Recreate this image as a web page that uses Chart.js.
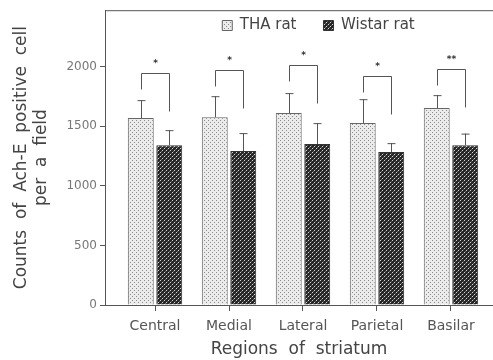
<!DOCTYPE html>
<html>
<head>
<meta charset="utf-8">
<script src="https://cdn.jsdelivr.net/npm/chart.js@4.4.0/dist/chart.umd.min.js"></script>
<style>
html, body { margin: 0; padding: 0; background: #fff; }
</style>
</head>
<body>
<canvas id="c" width="493" height="360"></canvas>
<script>
// values
const regions = ['Central', 'Medial', 'Lateral', 'Parietal', 'Basilar'];
const thaMean = [1570, 1577, 1611, 1527, 1653];
const thaSd = [150, 176, 168, 201, 109];
const wistarMean = [1342, 1292, 1351, 1284, 1342];
const wistarSd = [126, 151, 176, 75, 97];
const bracketTop = [1946, 1971, 2013, 1921, 1980];
const signif = ['*', '*', '*', '*', '**'];
const yTicks = [0, 500, 1000, 1500, 2000];

const canvas = document.getElementById('c');
const ctx = canvas.getContext('2d');

function makePattern(bg, dots, size) {
    let c = document.createElement('canvas');
    c.width = size; c.height = size;
    let g = c.getContext('2d');
    g.fillStyle = bg;
    g.fillRect(0, 0, size, size);
    dots.forEach(d => { g.fillStyle = d[2]; g.fillRect(d[0], d[1], 1, 1); });
    return ctx.createPattern(c, 'repeat');
}

const thaFill = makePattern('#ececec', [[0, 0, '#8a8a8a'], [2, 2, '#8a8a8a']], 4);
const wistarFill = makePattern('#262626', [[0, 0, '#d8d8d8'], [2, 2, '#d8d8d8'], [1, 3, '#707070'], [3, 1, '#5a5a5a']], 4);

Chart.defaults.font.family = 'DejaVu Sans';

// legend sits inside the plot frame, shifted right like the original
const legendInPlot = {
    id: 'legendInPlot',
    beforeInit(chart) {
        let lg = chart.legend;
        let fit = lg.fit;
        lg.fit = function () {
            fit.call(this);
            this._fullH = this.height;
            this.height = 10;
        };
    },
    afterLayout(chart) {
        let lg = chart.legend;
        lg.top = -9;
        lg.height = lg._fullH;
        lg.bottom = lg.top + lg._fullH;
        lg.left = 72;
        lg.right = chart.width + 72;
    }
};

const extras = {
    id: 'extras',
    afterDatasetsDraw(chart) {
        let c = chart.ctx;
        let y = chart.scales.y;
        let area = chart.chartArea;
        c.save();
        c.strokeStyle = '#555';
        c.lineWidth = 1;
        // top frame line
        c.beginPath();
        c.moveTo(area.left, area.top + 0.5);
        c.lineTo(area.right, area.top + 0.5);
        c.stroke();
        // error bars (upper only)
        chart.data.datasets.forEach((ds, di) => {
            let meta = chart.getDatasetMeta(di);
            meta.data.forEach((bar, i) => {
                let top = y.getPixelForValue(ds.data[i].y + ds.sd[i]);
                let x = Math.round(bar.x) + 0.5;
                c.beginPath();
                c.moveTo(x, bar.y);
                c.lineTo(x, top);
                c.moveTo(x - 4, top + 0.5);
                c.lineTo(x + 4, top + 0.5);
                c.stroke();
            });
        });
        // significance brackets
        let a = chart.getDatasetMeta(0).data;
        let b = chart.getDatasetMeta(1).data;
        c.fillStyle = '#333';
        c.font = 'bold 9px DejaVu Sans';
        c.textAlign = 'center';
        c.textBaseline = 'middle';
        regions.forEach((r, i) => {
            let yb = Math.round(y.getPixelForValue(bracketTop[i])) + 0.5;
            let x1 = Math.round(a[i].x) + 0.5;
            let x2 = Math.round(b[i].x) + 0.5;
            c.beginPath();
            c.moveTo(x1, yb + 16);
            c.lineTo(x1, yb);
            c.lineTo(x2, yb);
            c.lineTo(x2, yb + 38);
            c.stroke();
            c.fillText(signif[i], (x1 + x2) / 2, yb - 10);
        });
        c.restore();
    }
};

new Chart(ctx, {
    type: 'bar',
    data: {
        datasets: [
            {
                label: 'THA rat',
                data: thaMean.map((v, i) => ({ x: i, y: v })),
                sd: thaSd,
                backgroundColor: thaFill,
                borderColor: '#666',
                borderWidth: 1
            },
            {
                label: 'Wistar rat',
                data: wistarMean.map((v, i) => ({ x: i, y: v })),
                sd: wistarSd,
                backgroundColor: wistarFill,
                borderColor: '#333',
                borderWidth: 1
            }
        ]
    },
    options: {
        responsive: false,
        animation: false,
        devicePixelRatio: 1,
        categoryPercentage: 0.77,
        barPercentage: 0.91,
        layout: { padding: 0 },
        plugins: {
            legend: {
                position: 'top',
                labels: {
                    boxWidth: 10,
                    boxHeight: 10,
                    padding: 27,
                    color: '#444',
                    font: { size: 15 }
                }
            },
            tooltip: { enabled: false }
        },
        scales: {
            x: {
                type: 'linear',
                min: -0.676,
                max: 4.568,
                offset: false,
                afterBuildTicks: s => { s.ticks = regions.map((r, i) => ({ value: i })); },
                afterFit: s => { s.height = 55; },
                ticks: {
                    callback: v => regions[v],
                    color: '#555',
                    font: { size: 14 },
                    padding: 7,
                    maxRotation: 0,
                    autoSkip: false
                },
                grid: { offset: false, drawOnChartArea: false, tickLength: 6, color: '#555' },
                border: { color: '#555' },
                title: {
                    display: true,
                    text: 'Regions  of  striatum',
                    color: '#444',
                    font: { size: 17 },
                    padding: { top: 0, bottom: 0 }
                }
            },
            y: {
                min: 0,
                max: 2475,
                afterBuildTicks: s => { s.ticks = yTicks.map(v => ({ value: v })); },
                afterFit: s => { s.width = 105; },
                ticks: { callback: v => String(v), color: '#777', font: { size: 12 }, padding: 3 },
                grid: { drawOnChartArea: false, tickLength: 5, color: '#555' },
                border: { color: '#555' },
                title: {
                    display: true,
                    text: ['Counts  of  Ach-E  positive  cell', 'per  a  field'],
                    color: '#444',
                    font: { size: 17, lineHeight: 1.2 },
                    padding: { top: 11, bottom: 0 }
                }
            }
        }
    },
    plugins: [legendInPlot, extras]
});
</script>
</body>
</html>
